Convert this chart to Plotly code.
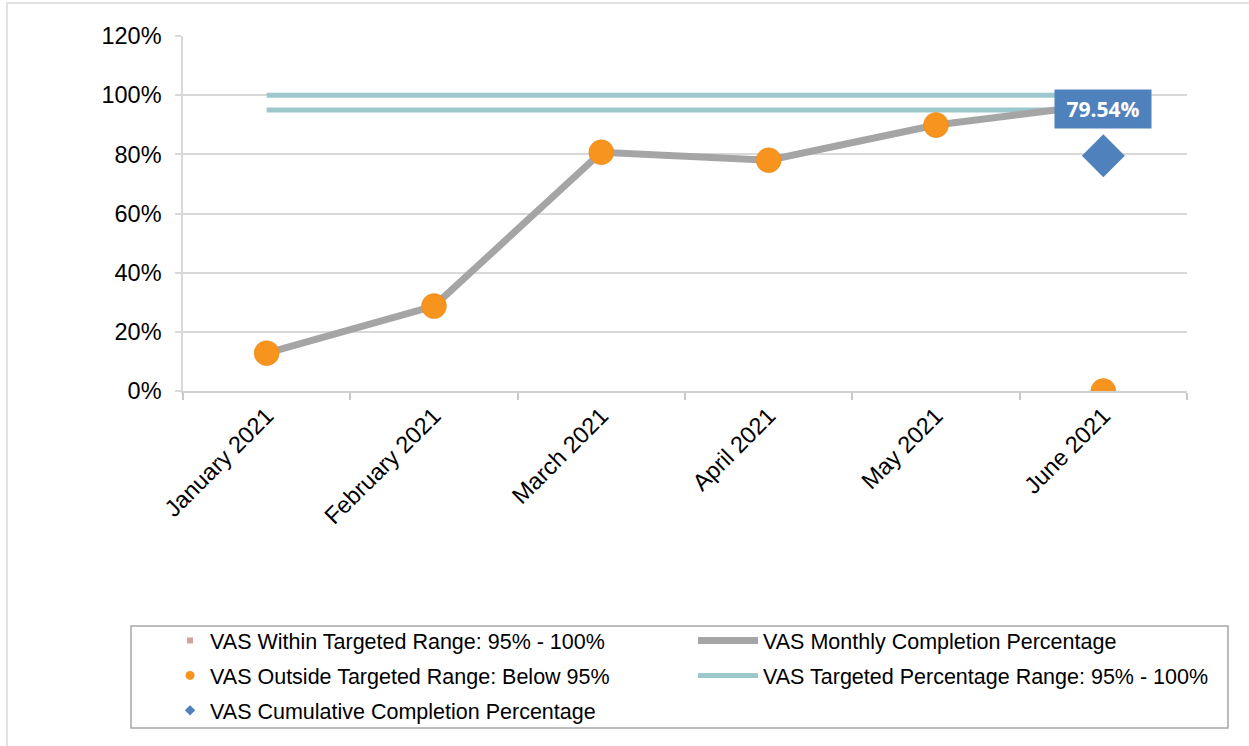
import plotly.graph_objects as go

months = ["January 2021", "February 2021", "March 2021", "April 2021", "May 2021", "June 2021"]
monthly_pct = [12.8, 28.7, 80.7, 78.0, 89.9, 97.0]
outside_pct = [12.8, 28.7, 80.7, 78.0, 89.9, 0.0]
within_pct = [None, None, None, None, None, 97.0]
target_high = [100, 100, 100, 100, 100, 100]
target_low = [95, 95, 95, 95, 95, 95]
cumulative_pct = [None, None, None, None, None, 79.54]
y_ticks = [0, 20, 40, 60, 80, 100, 120]
y_tick_labels = ["0%", "20%", "40%", "60%", "80%", "100%", "120%"]

GRAY = "#A5A5A5"
TEAL = "#9CC7CC"
ORANGE = "#F7941E"
BLUE = "#4F81BD"
PINK = "#D4A0A0"
FONT = "Liberation Sans, Arial, sans-serif"

fig = go.Figure()

# real traces (no legend)
fig.add_trace(go.Scatter(x=months, y=target_high, mode="lines", line=dict(color=TEAL, width=5),
                         showlegend=False, hoverinfo="skip"))
fig.add_trace(go.Scatter(x=months, y=target_low, mode="lines", line=dict(color=TEAL, width=5),
                         showlegend=False, hoverinfo="skip"))
fig.add_trace(go.Scatter(x=months, y=monthly_pct, mode="lines", line=dict(color=GRAY, width=7),
                         showlegend=False))
fig.add_trace(go.Scatter(x=months, y=within_pct, mode="markers",
                         marker=dict(symbol="line-ew", size=8, line=dict(color=PINK, width=3)),
                         showlegend=False))
fig.add_trace(go.Scatter(x=months, y=outside_pct, mode="markers",
                         marker=dict(symbol="circle", size=25, color=ORANGE,
                                     line=dict(color="#E8871A", width=0.5)),
                         showlegend=False))
fig.add_trace(go.Scatter(x=months, y=cumulative_pct, mode="markers",
                         marker=dict(symbol="diamond", size=33, color=BLUE),
                         showlegend=False))

# legend entries: column 1
fig.add_trace(go.Scatter(x=[None], y=[None], mode="markers", name="VAS Within Targeted Range: 95% - 100%",
                         legend="legend", legendgroup="a",
                         marker=dict(symbol="square", size=6, color=PINK)))
fig.add_trace(go.Scatter(x=[None], y=[None], mode="markers", name="VAS Outside Targeted Range: Below 95%",
                         legend="legend", legendgroup="b",
                         marker=dict(symbol="circle", size=9, color=ORANGE)))
fig.add_trace(go.Scatter(x=[None], y=[None], mode="markers", name="VAS Cumulative Completion Percentage",
                         legend="legend", legendgroup="c",
                         marker=dict(symbol="diamond", size=8, color=BLUE)))
# legend entries: column 2
fig.add_trace(go.Scatter(x=[None], y=[None], mode="lines", name="VAS Monthly Completion Percentage",
                         legend="legend2", legendgroup="d",
                         line=dict(color=GRAY, width=7)))
fig.add_trace(go.Scatter(x=[None], y=[None], mode="lines", name="VAS Targeted Percentage Range: 95% - 100%",
                         legend="legend2", legendgroup="e",
                         line=dict(color=TEAL, width=5)))

fig.add_annotation(x=months[-1], y=cumulative_pct[-1], text=f"<b>{cumulative_pct[-1]:.2f}%</b>",
                   showarrow=False, yshift=47, bgcolor=BLUE, width=92, height=34, borderpad=2,
                   font=dict(family="Open Sans, sans-serif", size=21, color="white"))

# outer border and legend border
fig.add_shape(type="rect", xref="paper", yref="paper", x0=-0.1753, x1=1.0727, y0=-1.039, y1=1.093,
              line=dict(color="#D9D9D9", width=1.5))
fig.add_shape(type="rect", xref="paper", yref="paper", x0=-0.0518, x1=1.0408, y0=-0.9493, y1=-0.662,
              line=dict(color="#A6A6A6", width=1.5))

legend_common = dict(orientation="v", xanchor="left", yanchor="top",
                     font=dict(size=21.5, family=FONT), bgcolor="rgba(0,0,0,0)", borderwidth=0,
                     tracegroupgap=4)

fig.update_layout(
    width=1249, height=746,
    margin=dict(l=183, r=62, t=36, b=355),
    paper_bgcolor="white", plot_bgcolor="white",
    font=dict(family=FONT, color="black"),
    showlegend=True,
    legend=dict(x=-0.0129, y=-0.645, **legend_common),
    legend2=dict(x=0.508, y=-0.645, itemwidth=60, **legend_common),
    xaxis=dict(type="category", range=[-0.5, 5.5], tickangle=-45, tickfont=dict(size=23.5),
               showgrid=False, showline=True, linecolor="#D0D0D0", linewidth=1.5,
               ticks="outside", ticklen=7, tickcolor="#C8C8C8", tickwidth=1.5, tickson="boundaries"),
    yaxis=dict(range=[0, 120], tickvals=y_ticks, ticktext=y_tick_labels, tickfont=dict(size=23.5),
               showgrid=True, gridcolor="#D9D9D9", gridwidth=1.5, zeroline=False,
               showline=True, linecolor="#D9D9D9", linewidth=1.5,
               ticks="outside", ticklen=6, tickcolor="#D9D9D9", tickwidth=1.5, ticklabelstandoff=9),
)

fig.write_html("out.html", config={"displayModeBar": False},
               post_script="document.body.style.margin='0px';")
